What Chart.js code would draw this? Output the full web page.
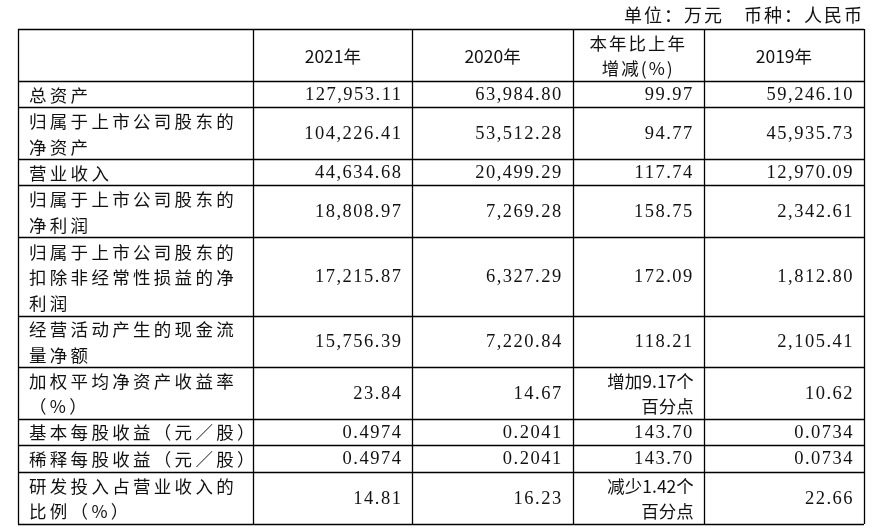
<!DOCTYPE html>
<html><head><meta charset="utf-8">
<script src="https://cdn.jsdelivr.net/npm/chart.js@4/dist/chart.umd.min.js"></script>
<style>html,body{margin:0;background:#fff}#w{width:881px;height:530px}</style>
</head><body><div id="w"><canvas id="c"></canvas></div>
<script>
const unitCaption = "单位：万元　币种：人民币";
const headers = [["2021年"],["2020年"],["本年比上年","增减(%)"],["2019年"]];
const rowLabels = [
 ["总资产"],["归属于上市公司股东的","净资产"],["营业收入"],["归属于上市公司股东的","净利润"],
 ["归属于上市公司股东的","扣除非经常性损益的净","利润"],["经营活动产生的现金流","量净额"],
 ["加权平均净资产收益率","（%）"],["基本每股收益（元／股）"],["稀释每股收益（元／股）"],
 ["研发投入占营业收入的","比例（%）"]];
const values2021 = ["127,953.11","104,226.41","44,634.68","18,808.97","17,215.87","15,756.39","23.84","0.4974","0.4974","14.81"];
const values2020 = ["63,984.80","53,512.28","20,499.29","7,269.28","6,327.29","7,220.84","14.67","0.2041","0.2041","16.23"];
const changePct = [["99.97"],["94.77"],["117.74"],["158.75"],["172.09"],["118.21"],["增加9.17个","百分点"],["143.70"],["143.70"],["减少1.42个","百分点"]];
const values2019 = ["59,246.10","45,935.73","12,970.09","2,342.61","1,812.80","2,105.41","10.62","0.0734","0.0734","22.66"];

const colW = [235,159,160,131,160];           // layout widths
const rowH = [52,26,52,26,52,78,51,52,26,27,52];
const tablePlugin = {
  id:'table',
  afterDraw(chart){
    const ctx=chart.ctx, a=chart.chartArea;
    const tw=colW.reduce((s,v)=>s+v,0), th=rowH.reduce((s,v)=>s+v,0);
    const sx=(a.right-a.left)/tw, sy=(a.bottom-a.top)/th;
    const xs=[a.left]; colW.forEach(w=>xs.push(xs[xs.length-1]+w*sx));
    const ys=[a.top]; rowH.forEach(h=>ys.push(ys[ys.length-1]+h*sy));
    ctx.save();
    ctx.fillStyle='#111';
    ctx.font='18px "Noto Sans CJK SC"';
    ctx.textAlign='right'; ctx.textBaseline='middle';
    ctx.letterSpacing='2px';
    ctx.fillText(unitCaption, a.right, 15);
    ctx.strokeStyle='#000'; ctx.lineWidth=1.3;
    ctx.beginPath();
    xs.forEach(x=>{ctx.moveTo(Math.round(x)+.5,a.top);ctx.lineTo(Math.round(x)+.5,a.bottom);});
    ys.forEach(y=>{ctx.moveTo(a.left,Math.round(y)+.5);ctx.lineTo(a.right,Math.round(y)+.5);});
    ctx.stroke();
    const zh='17.5px "Noto Sans CJK SC"', num='18.5px "Liberation Serif"';
    function draw(lines,r,c,align,font,ls){
      const cy=(ys[r]+ys[r+1])/2, n=lines.length, lh=25.5;
      ctx.textAlign=align; ctx.letterSpacing=ls+'px';
      lines.forEach((t,i)=>{
        const y=cy+(i-(n-1)/2)*lh;
        const x=align==='left'?xs[c]+11:align==='right'?xs[c+1]-10:(xs[c]+xs[c+1])/2;
        ctx.font=/^[0-9.,]+$/.test(t)?num:font;
        ctx.fillText(t,x,y+1);
      });
    }
    headers.forEach((h,i)=>draw(h,0,i+1,'center',zh,h.length>1?2:0));
    rowLabels.forEach((l,i)=>draw(l,i+1,0,'left',zh,3.3));
    const cols=[values2021,values2020,changePct,values2019];
    cols.forEach((col,c)=>col.forEach((v,i)=>{
      const lines=Array.isArray(v)?v:[v];
      draw(lines,i+1,c+1,'right',zh,lines.length>1?0:1.5);
    }));
    ctx.restore();
  }
};
new Chart(document.getElementById('c'),{
  type:'bar',
  data:{labels:rowLabels.map(r=>r.join('')),datasets:[{data:values2021.map(()=>null)}]},
  options:{responsive:true,maintainAspectRatio:false,animation:false,
    layout:{padding:{left:18,right:17,top:29,bottom:6}},
    plugins:{legend:{display:false},tooltip:{enabled:false}},
    scales:{x:{display:false},y:{display:false}}},
  plugins:[tablePlugin]
});
</script></body></html>
